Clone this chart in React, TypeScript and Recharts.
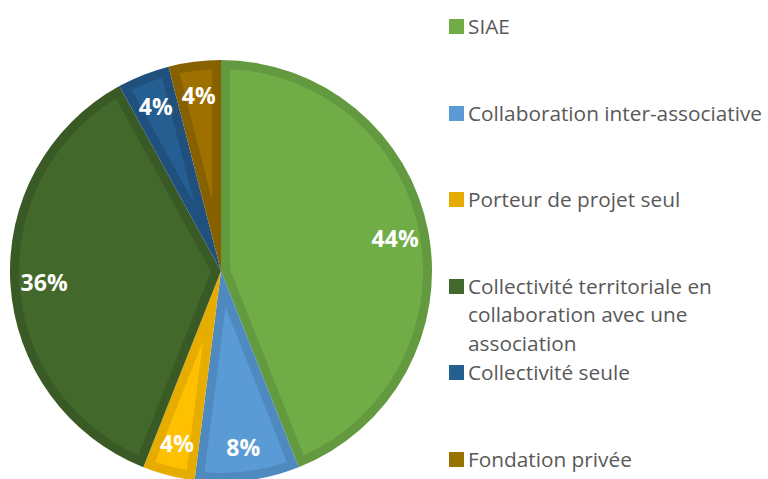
import React from 'react';
import { PieChart, Pie, Cell } from 'recharts';

const categories = [
  'SIAE',
  'Collaboration inter-associative',
  'Porteur de projet seul',
  'Collectivité territoriale en collaboration avec une association',
  'Collectivité seule',
  'Fondation privée',
];
const shares = [44, 8, 4, 36, 4, 4];
const fills = ['#70AD47', '#5B9BD5', '#FFC000', '#43682B', '#255E91', '#9E7000'];
const borders = ['#639A3F', '#4E89C0', '#E6AC00', '#3A5A25', '#20517E', '#876000'];
const legendColors = ['#70AD47', '#5B9BD5', '#E6AC00', '#43682B', '#255E91', '#997300'];

const data = categories.map((name, i) => ({ name, value: shares[i], border: borders[i] }));

const RADIAN = Math.PI / 180;
const BORDER = 9;

// Excel draws the slice border inside the slice, so draw the full sector in the
// border colour and an inset copy in the fill colour on top of it
const polar = (cx: number, cy: number, r: number, a: number) => [
  cx + r * Math.cos(a * RADIAN),
  cy - r * Math.sin(a * RADIAN),
];

const InsetSector = (props: any) => {
  const { cx, cy, outerRadius, startAngle, endAngle, fill, payload } = props;
  const s = Math.max(startAngle, endAngle);
  const e = Math.min(startAngle, endAngle);
  const span = s - e;
  const [ox1, oy1] = polar(cx, cy, outerRadius, s);
  const [ox2, oy2] = polar(cx, cy, outerRadius, e);
  const outer = `M${cx},${cy} L${ox1},${oy1} A${outerRadius},${outerRadius} 0 ${span > 180 ? 1 : 0} 1 ${ox2},${oy2} Z`;

  const r2 = outerRadius - BORDER;
  const delta = Math.asin(BORDER / r2) / RADIAN;
  const apexDist = BORDER / Math.sin((span / 2) * RADIAN);
  const [ax, ay] = polar(cx, cy, apexDist, (s + e) / 2);
  const [ix1, iy1] = polar(cx, cy, r2, s - delta);
  const [ix2, iy2] = polar(cx, cy, r2, e + delta);
  const innerSpan = span - 2 * delta;
  const inner = `M${ax},${ay} L${ix1},${iy1} A${r2},${r2} 0 ${innerSpan > 180 ? 1 : 0} 1 ${ix2},${iy2} Z`;

  return (
    <g>
      <path d={outer} fill={payload?.border ?? fill} />
      {apexDist < r2 && <path d={inner} fill={fill} />}
    </g>
  );
};

const renderLabel = ({ cx, cy, midAngle, outerRadius, value }: any) => {
  const r = outerRadius * 0.84;
  const x = cx + r * Math.cos(-midAngle * RADIAN);
  const y = cy + r * Math.sin(-midAngle * RADIAN);
  return (
    <text
      x={x}
      y={y}
      fill="#FFFFFF"
      textAnchor="middle"
      dominantBaseline="central"
      style={{ fontFamily: '"Open Sans", sans-serif', fontWeight: 700, fontSize: 23 }}
    >
      {`${value}%`}
    </text>
  );
};

// legend drawn as plain html next to the pie, Excel-like spacing
const LegendBlock = () => (
  <div
    style={{
      position: 'absolute',
      left: 449,
      top: 12,
      width: 319,
      fontFamily: '"Open Sans", sans-serif',
      fontSize: 20.8,
      color: '#595959',
    }}
  >
    {categories.map((name, i) => (
      <div key={name} style={{ height: 86.6, display: 'flex', alignItems: 'flex-start' }}>
        <div
          style={{
            width: 15,
            height: 15,
            background: legendColors[i],
            marginTop: 7,
            marginRight: 4,
            flexShrink: 0,
          }}
        />
        <div style={{ lineHeight: '28.5px', width: 300 }}>{name}</div>
      </div>
    ))}
  </div>
);

export default function App() {
  return (
    <div style={{ position: 'absolute', left: 0, top: 0, width: 768, height: 479, background: '#fff' }}>
      <PieChart width={768} height={479} margin={{ top: 0, right: 0, bottom: 0, left: 0 }}>
        <Pie
          data={data}
          dataKey="value"
          nameKey="name"
          cx={221}
          cy={271}
          outerRadius={211}
          startAngle={90}
          endAngle={-270}
          stroke="none"
          shape={InsetSector}
          label={renderLabel}
          labelLine={false}
          isAnimationActive={false}
        >
          {data.map((d, i) => (
            <Cell key={d.name} fill={fills[i]} />
          ))}
        </Pie>
      </PieChart>
      <LegendBlock />
    </div>
  );
}
